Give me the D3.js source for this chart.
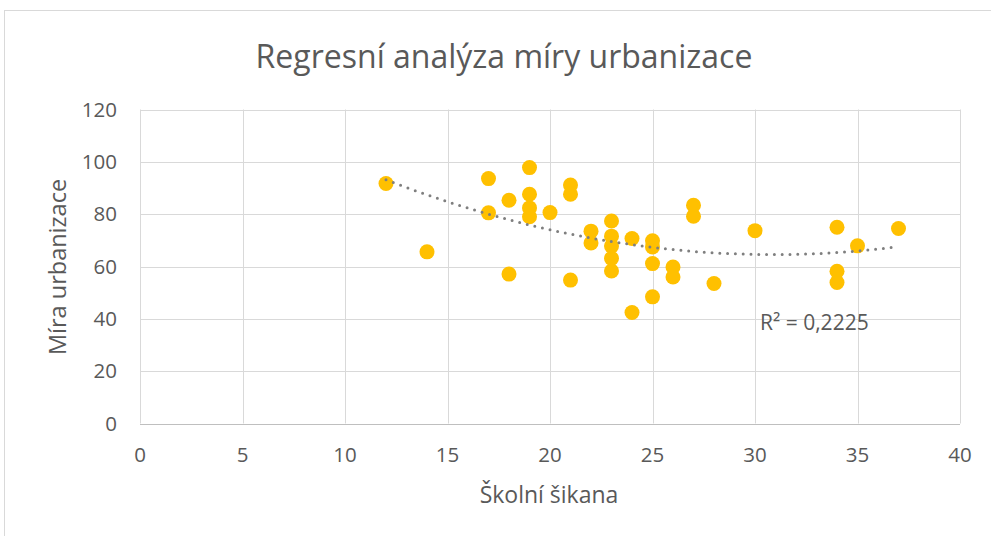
<!DOCTYPE html>
<html lang="cs">
  <head>
    <meta charset="utf-8">
    <title>Regresní analýza</title>
    <script src="https://d3js.org/d3.v7.min.js"></script>
    <style>
      body { margin: 0; background: #fff; }
      text { font-family: "Open Sans", Lato, sans-serif; fill: #595959; }
    </style>
  </head>
  <body>
  <script>

  // data
  var bullying = [12, 14, 17, 17, 18, 18, 19, 19, 19, 19, 20, 21, 21, 21, 22, 22,
                  23, 23, 23, 23, 23, 24, 24, 25, 25, 25, 25, 26, 26, 27, 27, 28,
                  30, 34, 34, 34, 35, 37];
  var urbanization = [91.7, 65.6, 93.6, 80.5, 85.3, 57.1, 97.8, 87.6, 82.4, 79.0, 80.6, 91.1, 87.6, 54.8, 73.5, 69.0,
                      77.4, 71.6, 67.8, 63.1, 58.3, 70.7, 42.4, 69.8, 67.5, 61.1, 48.4, 59.8, 56.0, 83.4, 79.2, 53.5,
                      73.7, 75.0, 58.2, 53.9, 67.9, 74.5];
  var xTicks = [0, 5, 10, 15, 20, 25, 30, 35, 40];
  var yTicks = [0, 20, 40, 60, 80, 100, 120];
  var r2Label = "R² = 0,2225";

  var w = 991, h = 536;

  var svg = d3.select("body").append("svg")
      .attr("width", w)
      .attr("height", h);

  // chart frame
  svg.append("rect")
      .attr("x", 4.5).attr("y", 10.5)
      .attr("width", 1000).attr("height", 600)
      .attr("fill", "#fff")
      .attr("stroke", "#d9d9d9");

  var x = d3.scaleLinear().domain([0, 40]).range([140, 960]);
  var y = d3.scaleLinear().domain([0, 120]).range([423.5, 109.5]);

  // gridlines
  svg.append("g").selectAll("line").data(yTicks.slice(1)).enter().append("line")
      .attr("x1", x(0)).attr("x2", x(40))
      .attr("y1", d => Math.round(y(d)) + 0.5).attr("y2", d => Math.round(y(d)) + 0.5)
      .attr("stroke", "#d9d9d9");
  svg.append("g").selectAll("line").data(xTicks).enter().append("line")
      .attr("x1", d => Math.round(x(d)) + 0.5).attr("x2", d => Math.round(x(d)) + 0.5)
      .attr("y1", y(0)).attr("y2", y(120))
      .attr("stroke", "#d9d9d9");
  svg.append("line")
      .attr("x1", x(0)).attr("x2", x(40))
      .attr("y1", Math.round(y(0)) + 0.5).attr("y2", Math.round(y(0)) + 0.5)
      .attr("stroke", "#bfbfbf");

  // tick labels
  svg.append("g").selectAll("text").data(yTicks).enter().append("text")
      .attr("x", 117).attr("y", d => y(d) + 7)
      .attr("text-anchor", "end")
      .style("font-size", "20.5px")
      .text(d => d);
  svg.append("g").selectAll("text").data(xTicks).enter().append("text")
      .attr("x", d => x(d)).attr("y", 462)
      .attr("text-anchor", "middle")
      .style("font-size", "20.5px")
      .text(d => d);

  // quadratic trendline (least squares)
  function quadFit(xs, ys) {
    var s = [0, 0, 0, 0, 0], t = [0, 0, 0];
    xs.forEach(function (xi, i) {
      for (var k = 0; k < 5; k++) s[k] += Math.pow(xi, k);
      for (var k = 0; k < 3; k++) t[k] += ys[i] * Math.pow(xi, k);
    });
    var A = [[s[0], s[1], s[2], t[0]], [s[1], s[2], s[3], t[1]], [s[2], s[3], s[4], t[2]]];
    for (var c = 0; c < 3; c++) {
      for (var rr = c + 1; rr < 3; rr++) {
        var f = A[rr][c] / A[c][c];
        for (var k = c; k < 4; k++) A[rr][k] -= f * A[c][k];
      }
    }
    var b = [0, 0, 0];
    for (var rr = 2; rr >= 0; rr--) {
      var v = A[rr][3];
      for (var k = rr + 1; k < 3; k++) v -= A[rr][k] * b[k];
      b[rr] = v / A[rr][rr];
    }
    return b;
  }
  var coef = quadFit(bullying, urbanization);
  var xMin = d3.min(bullying), xMax = d3.max(bullying);
  var trend = d3.range(0, 101).map(i => {
    var xv = xMin + (xMax - xMin) * i / 100;
    return [xv, coef[0] + coef[1] * xv + coef[2] * xv * xv];
  });

  // points
  svg.append("g").selectAll("circle").data(bullying).enter().append("circle")
      .attr("cx", d => x(d))
      .attr("cy", (d, i) => y(urbanization[i]))
      .attr("r", 7.5)
      .attr("fill", "#ffc000");

  svg.append("path")
      .datum(trend)
      .attr("d", d3.line().x(d => x(d[0])).y(d => y(d[1])))
      .attr("fill", "none")
      .attr("stroke", "#7f7f7f")
      .attr("stroke-width", 3)
      .attr("stroke-linecap", "round")
      .attr("stroke-dasharray", "0 7.8");

  svg.append("text")
      .attr("x", 760).attr("y", 330)
      .style("font-size", "21px")
      .text(r2Label);

  // titles
  svg.append("text")
      .attr("x", 504).attr("y", 68)
      .attr("text-anchor", "middle")
      .style("font-size", "32px")
      .text("Regresní analýza míry urbanizace");

  svg.append("text")
      .attr("x", 549).attr("y", 503)
      .attr("text-anchor", "middle")
      .style("font-size", "23px")
      .text("Školní šikana");

  svg.append("text")
      .attr("transform", "translate(66,267) rotate(-90)")
      .attr("text-anchor", "middle")
      .style("font-size", "23.5px")
      .text("Míra urbanizace");

  </script>
  </body>
</html>
